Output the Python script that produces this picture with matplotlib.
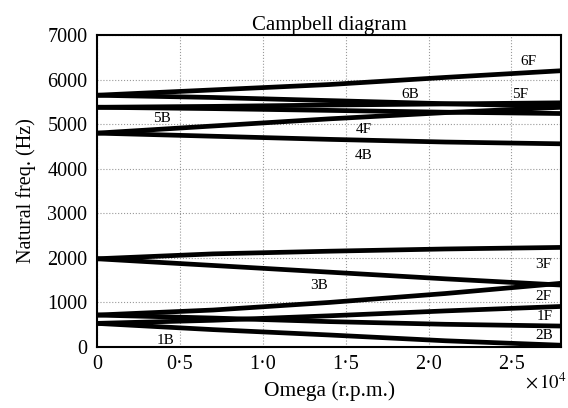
import numpy as np
import matplotlib
matplotlib.use("Agg")
import matplotlib.pyplot as plt

plt.rcParams['font.family'] = ['Liberation Serif', 'DejaVu Serif']
plt.rcParams['mathtext.fontset'] = 'stix'

# rotor speed (r.p.m.) where the frequencies were read
omega = [0, 7000, 14000, 21000, 28000]

# natural frequencies (Hz), forward (F) and backward (B) whirl modes
modes = {
    "6F": [5650, 5770, 5890, 6050, 6200],
    "6B": [5650, 5600, 5530, 5460, 5400],
    "5F": [5380, 5400, 5430, 5455, 5480],
    "5B": [5380, 5350, 5310, 5270, 5240],
    "4F": [4800, 4960, 5120, 5260, 5380],
    "4B": [4800, 4730, 4660, 4600, 4560],
    "3F": [1980, 2090, 2150, 2200, 2235],
    "3B": [1980, 1830, 1680, 1530, 1390],
    "2F": [717, 830, 1000, 1200, 1430],
    "2B": [717, 650, 570, 510, 470],
    "1F": [530, 600, 700, 810, 910],
    "1B": [530, 390, 270, 140, 40],
}

# where the mode names sit (omega, Hz)
label_pos = {
    "6F": (26000, 6400), "6B": (18900, 5660), "5F": (25500, 5660),
    "5B": (3900, 5130), "4F": (16100, 4870), "4B": (16100, 4300),
    "3F": (26900, 1850), "3B": (13400, 1390), "2F": (26900, 1130),
    "1F": (27000, 680), "2B": (27000, 250), "1B": (4150, 140),
}

xticks = [0, 5000, 10000, 15000, 20000, 25000]
xticklabels = ["0", "0\u00b75", "1\u00b70", "1\u00b75", "2\u00b70", "2\u00b75"]
yticks = [0, 1000, 2000, 3000, 4000, 5000, 6000, 7000]

fig = plt.figure(figsize=(5.68, 4.08), dpi=100)
ax = fig.add_axes([0.171, 0.1495, 0.817, 0.7645])

for name, vals in modes.items():
    ax.plot(omega, vals, color='black', linewidth=3.4, solid_capstyle='butt')

for name, (x, y) in label_pos.items():
    ax.text(x, y, name, fontsize=11, ha='center', va='center')

ax.set_xlim(0, 28000)
ax.set_ylim(0, 7000)
ax.set_xticks(xticks)
ax.set_xticklabels(xticklabels, fontsize=14.5)
ax.set_yticks(yticks)
ax.set_yticklabels([str(v) for v in yticks], fontsize=14.5)
ax.tick_params(axis='x', length=0, pad=6)
ax.tick_params(axis='y', length=0, pad=7)
ax.grid(True, linestyle=':', color='#999999', linewidth=0.8)
for s in ax.spines.values():
    s.set_linewidth(1.5)

ax.set_title("Campbell diagram", fontsize=15, pad=3)
ax.set_xlabel("Omega (r.p.m.)", fontsize=15.5, labelpad=5)
ax.set_ylabel("Natural freq. (Hz)", fontsize=14.5, labelpad=8)
ax.text(1.012, -0.112, r"$\times\,10^4$", transform=ax.transAxes,
        fontsize=13.5, ha='right', va='center')

fig.savefig("out.png", dpi=100)
